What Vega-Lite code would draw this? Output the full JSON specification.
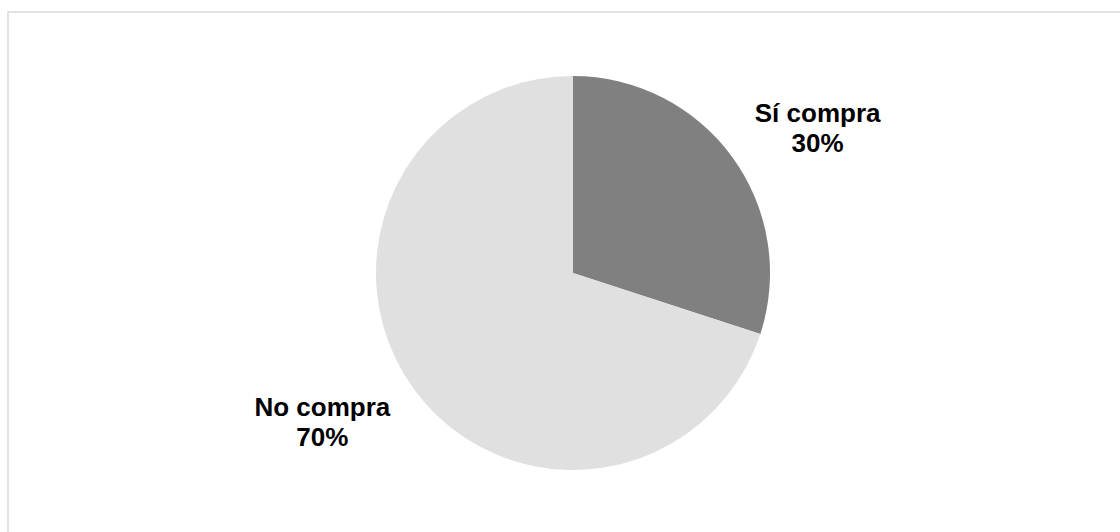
{
  "$schema": "https://vega.github.io/schema/vega-lite/v6.json",
  "width": 1120,
  "height": 532,
  "autosize": {"type": "fit", "contains": "padding"},
  "padding": {"left": 8, "top": 12, "right": -18, "bottom": -2},
  "background": "white",
  "view": {"stroke": "#d9d9d9", "strokeWidth": 1.5},
  "config": {
    "view": {"stroke": "#d9d9d9", "strokeWidth": 1.5},
    "font": "Liberation Sans"
  },
  "data": {
    "values": [
      {"categoria": "Sí compra", "valor": 30},
      {"categoria": "No compra", "valor": 70}
    ]
  },
  "transform": [
    {"calculate": "[datum.categoria, datum.valor + '%']", "as": "etiqueta"}
  ],
  "encoding": {
    "theta": {"field": "valor", "type": "quantitative", "stack": true},
    "order": {"field": "categoria", "sort": "descending"}
  },
  "layer": [
    {
      "mark": {"type": "arc", "radius": 197, "stroke": null},
      "encoding": {
        "color": {
          "field": "categoria",
          "type": "nominal",
          "scale": {"domain": ["Sí compra", "No compra"], "range": ["#808080", "#e0e0e0"]},
          "legend": null
        }
      }
    },
    {
      "mark": {
        "type": "text",
        "radius": 288,
        "thetaOffset": 0.0925,
        "dx": -3,
        "dy": -12,
        "fontSize": 26,
        "fontWeight": "bold",
        "font": "Liberation Sans",
        "lineHeight": 30,
        "align": "center",
        "baseline": "middle",
        "color": "black"
      },
      "encoding": {
        "text": {"field": "etiqueta"}
      }
    }
  ]
}
